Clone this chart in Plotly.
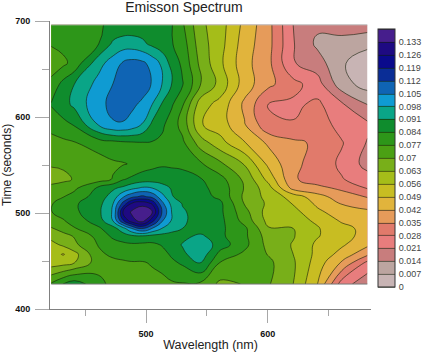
import plotly.graph_objects as go

wavelength = [422,432,441,461,473,481,488,497,505,513,521,530,545,561,581,601,621,641,661,682]
time_s = [426,448,457,467,476,484,492,501,510,517,526,535,551,573,592,613,634,656,676,696]

row_426 = [.078,.0842,.088,.0795,.0745,.074,.074,.0745,.075,.0755,.076,.0765,.0755,.0685,.0703,.0705,.063,.049,.0245,.016]
row_448 = [.0595,.0605,.063,.0735,.075,.076,.0765,.0765,.0775,.0785,.0825,.085,.0915,.0765,.0735,.0715,.064,.0525,.041,.026]
row_457 = [.0585,.0555,.0605,.0755,.0785,.079,.0795,.0795,.0795,.0815,.085,.0895,.0955,.0815,.0755,.0695,.063,.054,.0465,.0365]
row_467 = [.0605,.0645,.0685,.0775,.081,.0825,.083,.0825,.0825,.0845,.0875,.0915,.0965,.0875,.079,.0675,.0625,.0545,.05,.0435]
row_476 = [.0655,.068,.0705,.0795,.0855,.0875,.0895,.0905,.089,.0885,.0885,.089,.0925,.0855,.0785,.0665,.0635,.0565,.0515,.0465]
row_484 = [.0695,.0725,.0765,.083,.0885,.0955,.105,.113,.105,.098,.0935,.091,.0865,.0855,.0785,.0635,.063,.0565,.0515,.0465]
row_492 = [.0735,.0765,.08,.0875,.0985,.118,.13,.136,.122,.106,.0975,.0925,.087,.086,.0745,.0605,.0585,.055,.048,.0445]
row_501 = [.0768,.0795,.0825,.0895,.099,.126,.134,.139,.134,.112,.098,.092,.0875,.0855,.0725,.0595,.0585,.0505,.0455,.0435]
row_510 = [.0765,.0795,.083,.0885,.098,.114,.126,.13,.125,.107,.096,.0905,.087,.0855,.0695,.0615,.0555,.0475,.0415,.0385]
row_517 = [.0745,.0768,.0795,.0875,.094,.104,.11,.1135,.11,.101,.0915,.0885,.0865,.0825,.0685,.0605,.053,.0445,.0385,.0345]
row_526 = [.0715,.0735,.0755,.0855,.09,.0925,.096,.099,.098,.0935,.0905,.0875,.0855,.0815,.0695,.0585,.0395,.037,.0335,.0275]
row_535 = [.068,.0685,.0705,.074,.0775,.0835,.0855,.0875,.088,.0885,.0885,.0875,.0845,.0795,.0685,.0535,.036,.0315,.0285,.024]
row_551 = [.0705,.071,.0725,.0735,.076,.0765,.0775,.0805,.082,.083,.0825,.082,.078,.0715,.0625,.047,.0365,.0325,.0265,.0185]
row_573 = [.0745,.0755,.0765,.0805,.0815,.0825,.083,.0835,.0835,.0825,.0805,.0785,.0665,.0585,.0495,.0405,.0365,.0338,.0285,.0205]
row_592 = [.0795,.082,.0845,.0985,.1045,.1045,.1025,.0975,.0895,.0855,.0805,.0745,.0565,.0525,.0425,.0295,.0285,.0315,.0255,.0225]
row_613 = [.0845,.0885,.0925,.1035,.1065,.1075,.1065,.1035,.098,.0905,.085,.0775,.059,.0535,.0405,.0275,.0265,.0295,.022,.014]
row_634 = [.079,.0865,.091,.1005,.1052,.1075,.1085,.1085,.1045,.098,.0915,.0845,.0705,.0605,.0455,.0365,.0305,.024,.01,.004]
row_656 = [.0735,.0755,.0795,.0955,.1015,.1058,.1075,.1065,.1025,.0965,.0885,.0825,.068,.0575,.0445,.0365,.0215,.0175,.0075,.0045]
row_676 = [.0775,.079,.081,.084,.0925,.0945,.0945,.0925,.0895,.087,.0845,.0805,.066,.0585,.0455,.037,.0215,.0125,.012,.008]
row_696 = [.078,.0795,.081,.0835,.085,.086,.0865,.087,.0865,.086,.0845,.078,.0645,.059,.047,.037,.021,.0155,.0165,.018]
intensity = [row_426,row_448,row_457,row_467,row_476,row_484,row_492,row_501,row_510,row_517,row_526,row_535,
             row_551,row_573,row_592,row_613,row_634,row_656,row_676,row_696]

band_colors = ["#c8b4b4","#bca5a0","#c87d7d","#e87d7d","#e17a6b","#e69b5a","#e1b43c","#c8bd22","#a5bd19","#78af19",
               "#4ba014","#2d9619","#0f8c2d","#0aa587","#0f9bd2","#0f64b4","#0a2d96","#0a0a8c","#1e0a82","#461e8c"]
level_labels = ["0","0.007","0.014","0.021","0.028","0.035","0.042","0.049","0.056","0.063","0.07",
                "0.077","0.084","0.091","0.098","0.105","0.112","0.119","0.126","0.133"]
level_values = [float(s) for s in level_labels]
x_major, x_minor = [500,600], [450,550,650]
y_major, y_minor = [400,500,600,700], [450,550,650]

n = len(band_colors)
scale = []
for i, c in enumerate(band_colors):
    scale += [[i/n, c], [(i+1)/n, c]]

W, H = 422, 353
L, R, T, B = 50, 51, 21, 44
PW, PH = W-L-R, H-T-B
fig = go.Figure(go.Contour(
    x=wavelength, y=time_s, z=intensity, zmin=0, zmax=0.14, autocontour=False,
    contours=dict(start=0, end=0.14, size=0.007, coloring="fill"),
    colorscale=scale, line=dict(color="rgba(20,30,10,0.75)", width=0.8, smoothing=1.3),
    hoverinfo="skip",
    colorbar=dict(
        thickness=17, thicknessmode="pixels", len=258, lenmode="pixels",
        x=(378-L)/PW, xanchor="left", xref="paper", xpad=0,
        y=1-(29-T)/PH, yanchor="top", yref="paper", ypad=0,
        outlinecolor="#333333", outlinewidth=1, borderwidth=0,
        tickmode="array", tickvals=level_values, ticktext=level_labels,
        ticks="outside", ticklen=2, tickcolor="rgba(0,0,0,0)",
        tickfont=dict(family="Liberation Sans", size=9, color="#444444"),
    ),
))
for xs, ys, col in [([wavelength[0], wavelength[-1]], [time_s[0], time_s[0]], "#777777"),
                    ([wavelength[0], wavelength[-1]], [time_s[-1], time_s[-1]], "#bbbbbb")]:
    fig.add_trace(go.Scatter(x=xs, y=ys, mode="lines", line=dict(color=col, width=1),
                             hoverinfo="skip", showlegend=False))

tick_font = dict(family="Liberation Sans", size=9, color="#111111", weight=700)
fig.update_layout(
    width=W, height=H, margin=dict(l=L, r=R, t=T, b=B, autoexpand=False),
    paper_bgcolor="white", plot_bgcolor="white", showlegend=False,
    title=dict(text="Emisson Spectrum", x=184/W, xanchor="center", y=1-7/H, yanchor="middle",
               font=dict(family="Liberation Sans", size=14, color="#222222")),
    xaxis=dict(range=[421,685], showgrid=False, zeroline=False, showline=True, linecolor="#808080", linewidth=1,
               tickmode="array", tickvals=x_major, ticks="outside", ticklen=13, tickcolor="#a8a8a8", tickwidth=1,
               ticklabelstandoff=3,
               minor=dict(tickmode="array", tickvals=x_minor, ticks="outside", ticklen=6, tickcolor="#a8a8a8", tickwidth=1),
               tickfont=tick_font,
               title=dict(text="Wavelength (nm)", font=dict(family="Liberation Sans", size=12.5, color="#222222"), standoff=2)),
    yaxis=dict(range=[400,700], showgrid=False, zeroline=False, showline=True, linecolor="#808080", linewidth=1,
               tickmode="array", tickvals=y_major, ticks="outside", ticklen=14, tickcolor="#a8a8a8", tickwidth=1,
               ticklabelstandoff=3,
               minor=dict(tickmode="array", tickvals=y_minor, ticks="outside", ticklen=7, tickcolor="#a8a8a8", tickwidth=1),
               tickfont=tick_font,
               title=dict(text="Time (seconds)", font=dict(family="Liberation Sans", size=12, color="#222222"), standoff=2)),
)
fig.write_html("out.html", config=dict(displayModeBar=False),
               post_script="document.body.style.margin='0';document.documentElement.style.overflow='hidden';")
